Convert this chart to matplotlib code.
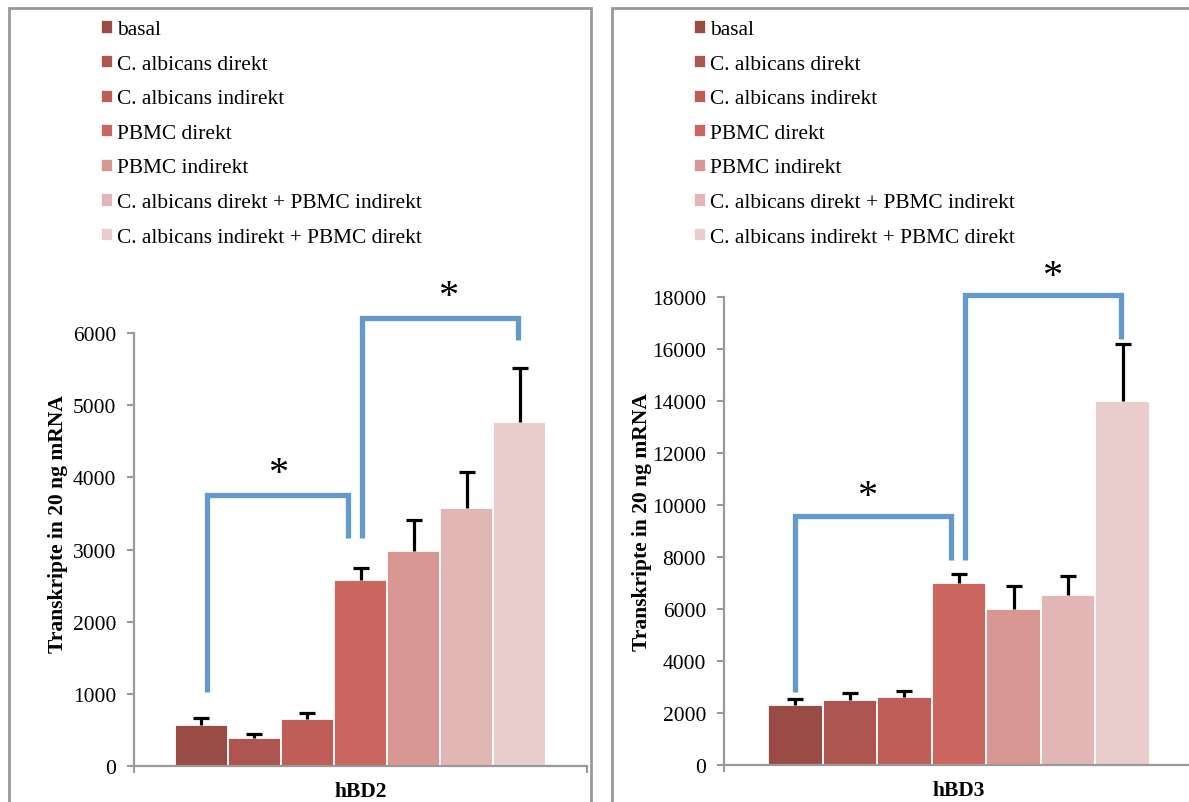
import matplotlib.pyplot as plt
from matplotlib.patches import Patch, Rectangle

plt.rcParams["font.family"] = ["Liberation Serif", "DejaVu Serif"]

labels = ["basal", "C. albicans direkt", "C. albicans indirekt", "PBMC direkt",
          "PBMC indirekt", "C. albicans direkt + PBMC indirekt",
          "C. albicans indirekt + PBMC direkt"]
colors = ["#9b4b45", "#ad5650", "#bf5d57", "#cb6760", "#d99794", "#e1b6b4", "#e9cdcd"]

# hBD2
hbd2_mean = [570, 385, 645, 2575, 2985, 3580, 4770]
hbd2_err = [95, 60, 95, 170, 430, 500, 750]
hbd2_ticks = [0, 1000, 2000, 3000, 4000, 5000, 6000]
# brackets: (x_left, y_left_bottom, y_top, x_right, y_right_bottom), star (x, y)
hbd2_brackets = [(0.10, 1025, 3760, 2.77, 3155), (3.03, 3155, 6210, 5.97, 5905)]
hbd2_stars = [(1.45, 4060), (4.66, 6500)]

# hBD3
hbd3_mean = [2290, 2500, 2610, 7000, 5990, 6520, 14010]
hbd3_err = [240, 280, 250, 350, 890, 750, 2190]
hbd3_ticks = [0, 2000, 4000, 6000, 8000, 10000, 12000, 14000, 16000, 18000]
hbd3_brackets = [(0.0, 2820, 9590, 2.85, 7880), (3.11, 7880, 18070, 5.97, 16380)]
hbd3_stars = [(1.32, 10320), (4.71, 18780)]

W, H = 1189, 803
fig = plt.figure(figsize=(W / 100, H / 100), dpi=100)

GRID = "#999999"
BLUE = "#6599cc"


def px(x0, y0, x1, y1):
    # pixel box (top-left origin) -> figure fraction rect
    return [x0 / W, 1 - y1 / H, (x1 - x0) / W, (y1 - y0) / H]


def panel(rect, means, errs, ticks, cat, brackets, stars, pad, ylab_xy, leg_xy):
    ax = fig.add_axes(rect)
    n = len(means)
    x = list(range(n))
    ax.bar(x, means, width=1.0, color=colors, edgecolor="white", linewidth=1.3, zorder=2)
    _, caps, _ = ax.errorbar(x, means, yerr=[[0] * n, errs], fmt="none", ecolor="black",
                             elinewidth=2.3, capsize=6, capthick=2.3, zorder=3)
    caps[0].set_visible(False)  # only the upper whisker
    ax.set_xlim(-0.5 - pad, n - 0.5 + pad)
    ax.set_ylim(0, ticks[-1])
    ax.set_yticks(ticks)
    ax.set_yticklabels([str(t) for t in ticks], fontsize=15.5)
    ax.tick_params(axis="y", length=5, width=1.5, color=GRID, pad=8)
    ax.set_xticks([-0.5 - pad, n - 0.5 + pad])
    ax.set_xticklabels(["", ""])
    ax.tick_params(axis="x", length=5, width=1.5, color=GRID)
    ax.set_xticks([(n - 1) / 2], minor=True)
    ax.set_xticklabels([cat], minor=True, fontsize=15.5, fontweight="bold")
    ax.tick_params(axis="x", which="minor", length=0, pad=11)
    for s in ["top", "right"]:
        ax.spines[s].set_visible(False)
    for s in ["left", "bottom"]:
        ax.spines[s].set_color(GRID)
        ax.spines[s].set_linewidth(1.6)
    ax.set_ylabel("Transkripte in 20 ng mRNA", fontsize=15.5, fontweight="bold")
    ax.yaxis.set_label_coords(*ylab_xy)

    for xl, yl, yt, xr, yr in brackets:
        ax.plot([xl, xl, xr, xr], [yl, yt, yt, yr], color=BLUE, lw=3.8,
                solid_joinstyle="miter", solid_capstyle="butt", clip_on=False, zorder=4)
    for sx, sy in stars:
        ax.text(sx, sy, "*", fontsize=29, ha="center", va="center", clip_on=False)

    handles = [Patch(facecolor=c, edgecolor="white", linewidth=0.5) for c in colors]
    fig.legend(handles, labels, loc="upper left",
               bbox_to_anchor=(leg_xy[0] / W, 1 - leg_xy[1] / H),
               frameon=False, fontsize=15.4, handlelength=0.5, handleheight=0.5,
               handletextpad=0.25, labelspacing=0.73, borderpad=0, borderaxespad=0)
    return ax


panel(px(134, 334, 587, 767), hbd2_mean, hbd2_err, hbd2_ticks, "hBD2",
      hbd2_brackets, hbd2_stars, 0.77, (-0.146, 0.561), (101, 21))
panel(px(724, 298, 1194, 766), hbd3_mean, hbd3_err, hbd3_ticks, "hBD3",
      hbd3_brackets, hbd3_stars, 0.81, (-0.153, 0.521), (694, 21))

# panel frames
fig.add_artist(Rectangle((9 / W, -0.05), (591 - 9) / W, 1.05 - 9 / H, fill=False,
                         edgecolor=GRID, linewidth=2, transform=fig.transFigure))
fig.add_artist(Rectangle((612 / W, -0.05), 0.5, 1.05 - 9 / H, fill=False,
                         edgecolor=GRID, linewidth=2, transform=fig.transFigure))

fig.savefig("out.png", dpi=100)
